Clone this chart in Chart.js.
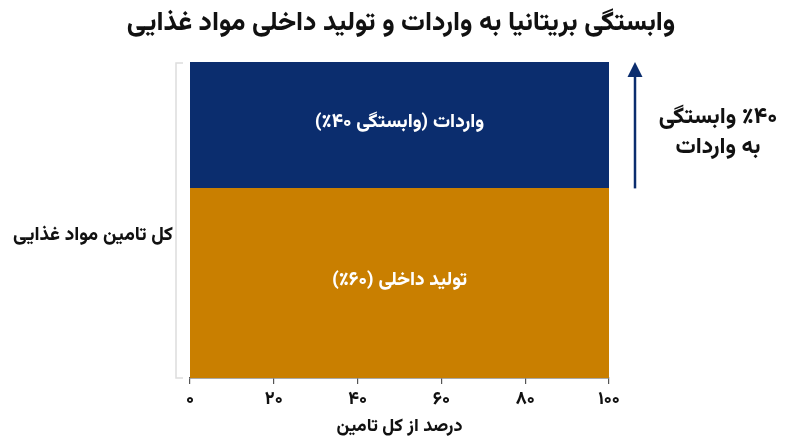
<!DOCTYPE html>
<html lang="fa">
<head>
<meta charset="utf-8">
<script src="https://cdn.jsdelivr.net/npm/chart.js@4.4.1/dist/chart.umd.min.js"></script>
<style>
  html, body { margin: 0; padding: 0; background: #ffffff; }
  #wrap { width: 800px; height: 447px; position: relative; }
</style>
</head>
<body>
<div id="wrap"><canvas id="c"></canvas></div>
<script>
// ---- data ----
const categories = ['کل تامین مواد غذایی'];
const segmentNames = ['تولید داخلی', 'واردات'];
const domesticShare = [60];
const importShare = [40];
const segmentLabels = ['تولید داخلی (۶۰٪)', 'واردات (وابستگی ۴۰٪)'];
const xTickValues = [0, 20, 40, 60, 80, 100];
const chartTitle = 'وابستگی بریتانیا به واردات و تولید داخلی مواد غذایی';
const xAxisTitle = 'درصد از کل تامین';
const yAxisLabel = 'کل تامین مواد غذایی';
const annotationLines = ['٪۴۰ وابستگی', 'به واردات'];

const FONT = "Vazirmatn, 'Noto Sans Arabic', 'DejaVu Sans', sans-serif";
const W = '800';
const BLUE = '#0b2d6e';
const ORANGE = '#c97f00';

const toFa = (n) => String(n).replace(/\d/g, d => '۰۱۲۳۴۵۶۷۸۹'[d]);

const annot = {
  id: 'annot',
  afterDatasetsDraw(chart) {
    const ctx = chart.ctx;
    const a = chart.chartArea;
    ctx.save();
    ctx.direction = 'rtl';
    ctx.textAlign = 'center';
    ctx.textBaseline = 'middle';
    ctx.fillStyle = '#ffffff';
    ctx.font = W + ' 19px ' + FONT;
    chart.data.datasets.forEach((ds, i) => {
      const el = chart.getDatasetMeta(i).data[0];
      const cy = (el.y + el.base) / 2;
      ctx.fillText(segmentLabels[i], (a.left + a.right) / 2, cy - 1);
    });
    ctx.restore();
  },
  afterDraw(chart) {
    const ctx = chart.ctx;
    const a = chart.chartArea;
    const y = chart.scales.y;
    ctx.save();
    ctx.direction = 'rtl';
    ctx.textAlign = 'center';
    ctx.textBaseline = 'middle';
    // title
    ctx.fillStyle = '#111111';
    ctx.font = W + ' 26.5px ' + FONT;
    ctx.fillText(chartTitle, 401, 26);
    // left category label
    ctx.font = W + ' 19px ' + FONT;
    ctx.fillText(yAxisLabel, 93, 237);
    // bracket
    ctx.strokeStyle = '#dddddd';
    ctx.lineWidth = 1.5;
    const bx = a.left - 14;
    ctx.beginPath();
    ctx.moveTo(bx + 7, a.top + 1);
    ctx.lineTo(bx, a.top + 1);
    ctx.lineTo(bx, a.bottom);
    ctx.lineTo(bx + 7, a.bottom);
    ctx.stroke();
    // arrow for imports segment
    const ax = a.right + 26;
    const yTop = y.getPixelForValue(domesticShare[0] + importShare[0]);
    const yBot = y.getPixelForValue(domesticShare[0]);
    ctx.strokeStyle = BLUE;
    ctx.fillStyle = BLUE;
    ctx.lineWidth = 2.5;
    ctx.beginPath();
    ctx.moveTo(ax, yBot);
    ctx.lineTo(ax, yTop + 12);
    ctx.stroke();
    ctx.beginPath();
    ctx.moveTo(ax, yTop);
    ctx.lineTo(ax - 7.5, yTop + 15);
    ctx.lineTo(ax + 7.5, yTop + 15);
    ctx.closePath();
    ctx.fill();
    // annotation text
    ctx.fillStyle = '#111111';
    ctx.font = W + ' 22.5px ' + FONT;
    ctx.fillText(annotationLines[0], 718, 119);
    ctx.fillText(annotationLines[1], 718, 149);
    ctx.restore();
  }
};

new Chart(document.getElementById('c'), {
  type: 'bar',
  data: {
    labels: categories,
    datasets: [
      { label: segmentNames[0], data: domesticShare, backgroundColor: ORANGE, borderWidth: 0, barPercentage: 1, categoryPercentage: 1 },
      { label: segmentNames[1], data: importShare, backgroundColor: BLUE, borderWidth: 0, barPercentage: 1, categoryPercentage: 1 }
    ]
  },
  options: {
    responsive: true,
    maintainAspectRatio: false,
    animation: false,
    layout: { padding: { left: 190, right: 191, top: 62, bottom: 0 } },
    plugins: { legend: { display: false }, tooltip: { enabled: false }, title: { display: false } },
    scales: {
      x: { display: false, stacked: true },
      y: { display: false, stacked: true, min: 0, max: 100 },
      xv: {
        type: 'linear',
        position: 'bottom',
        offset: false,
        min: 0, max: 100,
        afterFit: (s) => { s.height = 69; },
        afterBuildTicks: (s) => { s.ticks = xTickValues.map(v => ({ value: v })); },
        border: { display: true, color: '#555555', width: 1.5 },
        grid: { display: true, offset: false, drawOnChartArea: false, drawTicks: true, tickLength: 6, color: '#555555', lineWidth: 1.2 },
        ticks: {
          padding: 6,
          maxRotation: 0,
          autoSkip: false,
          color: '#111111',
          font: { family: FONT, size: 18, weight: W },
          callback: (v) => toFa(v)
        },
        title: {
          display: true,
          text: xAxisTitle,
          color: '#111111',
          font: { family: FONT, size: 18, weight: W },
          padding: { top: 0, bottom: 8 }
        }
      }
    }
  },
  plugins: [annot]
});
</script>
</body>
</html>
